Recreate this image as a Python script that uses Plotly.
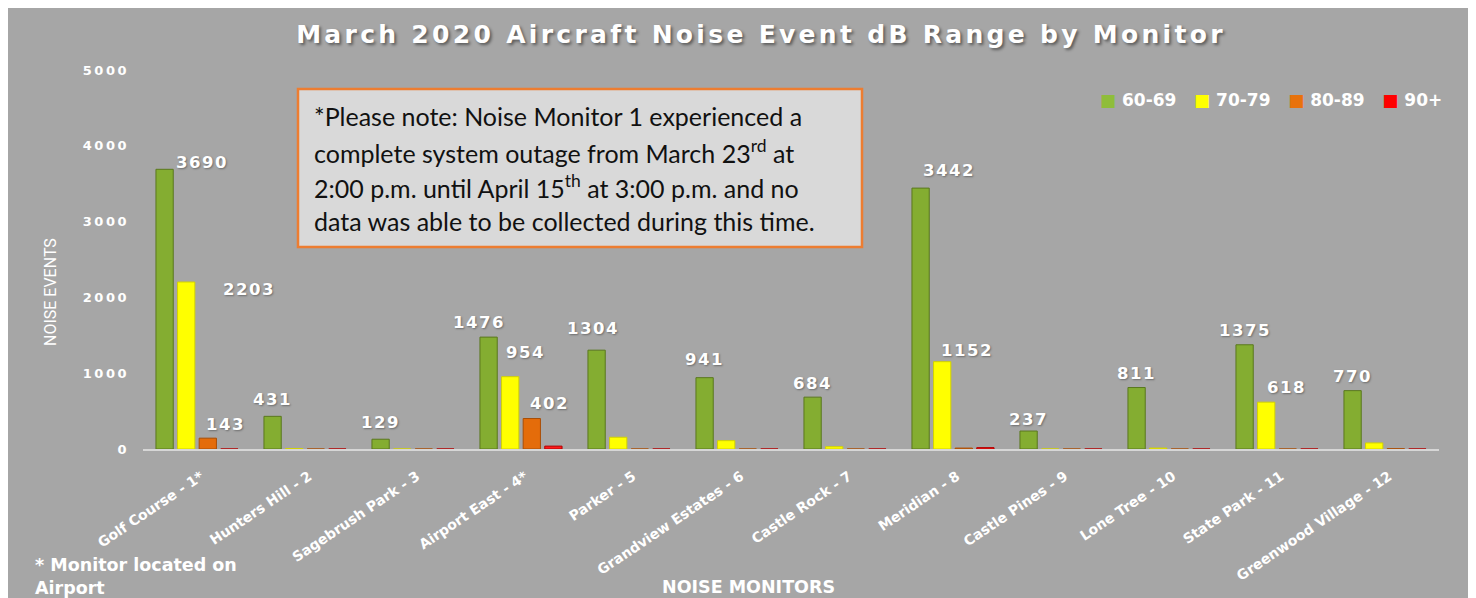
import plotly.graph_objects as go

# ---------------- data ----------------
monitors = ["Golf Course - 1*", "Hunters Hill - 2", "Sagebrush Park - 3", "Airport East - 4*",
            "Parker - 5", "Grandview Estates - 6", "Castle Rock - 7", "Meridian - 8",
            "Castle Pines - 9", "Lone Tree - 10", "State Park - 11", "Greenwood Village - 12"]
series_names = ["60-69", "70-79", "80-89", "90+"]
db_60_69 = [3690, 431, 129, 1476, 1304, 941, 684, 3442, 237, 811, 1375, 770]
db_70_79 = [2203, 5, 0, 954, 155, 110, 30, 1152, 0, 12, 618, 80]
db_80_89 = [143, 0, 0, 402, 0, 0, 0, 12, 0, 0, 0, 4]
db_90_up = [0, 0, 0, 38, 0, 0, 0, 18, 0, 0, 0, 0]
# which values carry a data label in the original
shown_60_69 = [True] * 12
shown_70_79 = [True, False, False, True, False, False, False, True, False, False, True, False]
shown_80_89 = [True, False, False, True, False, False, False, False, False, False, False, False]
shown_90_up = [False] * 12
y_ticks = [0, 1000, 2000, 3000, 4000, 5000]

title_text = "March 2020 Aircraft Noise Event dB Range by Monitor"
note_lines = ["*Please note: Noise Monitor 1 experienced a",
              "complete system outage from March 23<sup>rd</sup> at",
              "2:00 p.m. until April 15<sup>th</sup> at 3:00 p.m. and no",
              "data was able to be collected during this time."]

# ---------------- style ----------------
OFF = 8                      # page body margin
W, H = 1476 - OFF, 598 - OFF
L, R, T, B = 135, 37, 62, 149
PW, PH = W - L - R, H - T - B
BARGAP, GROUPGAP = 0.2, 0.2
colors = ["#84ad31", "#ffff00", "#e46c0a", "#ff1a1a"]
edges = ["#5a781e", "#d2d200", "#a94e06", "#b30000"]
legend_colors = ["#8fbd3a", "#ffff00", "#e8720c", "#ff0000"]
WHITE = "#ffffff"
BOLD = "DejaVu Sans"


def spaced(txt, px):
    return f'<span style="letter-spacing:{px}px">{txt}</span>'


# label nudges (px) for labels Excel moved off the bar centre: (series, monitor) -> (dx, dy, yanchor)
label_nudge = {(0, 0): (37, -5, "bottom"), (1, 0): (63, 4, "top"), (2, 0): (18, 2, "bottom"),
               (0, 1): (0, 5, "bottom"), (0, 2): (0, 5, "bottom"),
               (0, 3): (-10, 3, "bottom"), (1, 3): (15, 13, "bottom"), (2, 3): (18, 4, "bottom"),
               (0, 4): (-4, 10, "bottom"), (0, 5): (0, 7, "bottom"), (0, 6): (0, 2, "bottom"),
               (0, 7): (28, 6, "bottom"), (1, 7): (25, 0, "bottom"), (0, 8): (0, 0, "bottom"),
               (1, 10): (20, 3, "bottom")}


def px_x(rx):
    """reference-screen x -> paper fraction"""
    return (rx - OFF - L) / PW


def px_y(ry):
    """reference-screen y -> paper fraction"""
    return (H - B - (ry - OFF)) / PH


series = [db_60_69, db_70_79, db_80_89, db_90_up]
shown = [shown_60_69, shown_70_79, shown_80_89, shown_90_up]

fig = go.Figure()
for i, (name, vals) in enumerate(zip(series_names, series)):
    fig.add_trace(go.Bar(name=name, x=monitors, y=vals, showlegend=False,
                         marker=dict(color=colors[i], line=dict(color=edges[i], width=1))))

slot_px = PW / len(monitors) * (1 - BARGAP) / len(series)
annotations = []
for i, vals in enumerate(series):
    for j, v in enumerate(vals):
        if not shown[i][j]:
            continue
        dx, dy, ya = label_nudge.get((i, j), (0, 3, "bottom"))
        annotations.append(dict(x=monitors[j], y=v, xref="x", yref="y", text=spaced(v, 1.5),
                                showarrow=False,
                                xshift=(i - (len(series) - 1) / 2) * slot_px + dx, yshift=dy,
                                xanchor="center", yanchor=ya,
                                font=dict(family=BOLD, size=16.5, color=WHITE, weight="bold",
                                          shadow="1px 1px 2px rgba(0,0,0,0.35)")))

# legend row (compact, as in the original)
NB = "\u00a0"
legend_text = (NB * 3).join(f'<span style="color:{c}">\u25a0</span>{NB}{n}'
                            for c, n in zip(legend_colors, series_names))
annotations.append(dict(x=px_x(1444), y=px_y(100), xref="paper", yref="paper", text=legend_text,
                        showarrow=False, xanchor="right", yanchor="middle",
                        font=dict(family=BOLD, size=17, color=WHITE, weight="bold")))

# note box text
for k, line in enumerate(note_lines):
    annotations.append(dict(x=px_x(312), y=px_y(116 + 35 * k), xref="paper", yref="paper", text=line,
                            showarrow=False, xanchor="left", yanchor="middle",
                            font=dict(family="Lato", size=25, color="#111111")))

# axis titles and footnote
annotations.append(dict(x=px_x(748), y=px_y(587), xref="paper", yref="paper", text="NOISE MONITORS",
                        showarrow=False, xanchor="center", yanchor="middle",
                        font=dict(family=BOLD, size=17.5, color=WHITE, weight="bold")))
annotations.append(dict(x=px_x(50), y=px_y(292), xref="paper", yref="paper", text="NOISE EVENTS",
                        showarrow=False, xanchor="center", yanchor="middle", textangle=-90,
                        font=dict(family="Roboto", size=16, color=WHITE)))
annotations.append(dict(x=px_x(33), y=px_y(576), xref="paper", yref="paper",
                        text="* Monitor located on<br>Airport", showarrow=False, xanchor="left",
                        yanchor="middle", align="left",
                        font=dict(family=BOLD, size=17.5, color=WHITE, weight="bold")))

shapes = [
    dict(type="rect", xref="paper", yref="paper", x0=px_x(298), x1=px_x(862), y0=px_y(247), y1=px_y(89),
         fillcolor="#d9d9d9", line=dict(color="#ed7d31", width=2.5), layer="above"),
]

fig.update_layout(
    width=W, height=H, margin=dict(l=L, r=R, t=T, b=B),
    paper_bgcolor="#a6a6a6", plot_bgcolor="rgba(0,0,0,0)",
    barmode="group", bargap=BARGAP, bargroupgap=GROUPGAP,
    title=dict(text=spaced(title_text, 3.3),
               x=(761 - OFF) / W, y=1 - (34 - OFF) / H, xanchor="center", yanchor="middle",
               font=dict(family=BOLD, size=25, color=WHITE, weight="bold",
                         shadow="2px 2px 3px rgba(0,0,0,0.45)")),
    annotations=annotations, shapes=shapes,
    showlegend=False,
)
fig.update_xaxes(type="category", tickangle=-34, showline=True, linecolor="#d6d6d6", linewidth=2,
                 ticks="", showgrid=False, automargin=False, ticklabelshift=4, ticklabelstandoff=12,
                 tickfont=dict(family=BOLD, size=14, color=WHITE, weight="bold"))
fig.update_yaxes(range=[0, 5000], tickvals=y_ticks, ticktext=[spaced(t, 2.5) for t in y_ticks],
                 showgrid=False, zeroline=False, showline=False,
                 ticks="", automargin=False, ticklabelstandoff=13,
                 tickfont=dict(family=BOLD, size=13, color=WHITE, weight="bold"))

fig.write_html("out.html")
